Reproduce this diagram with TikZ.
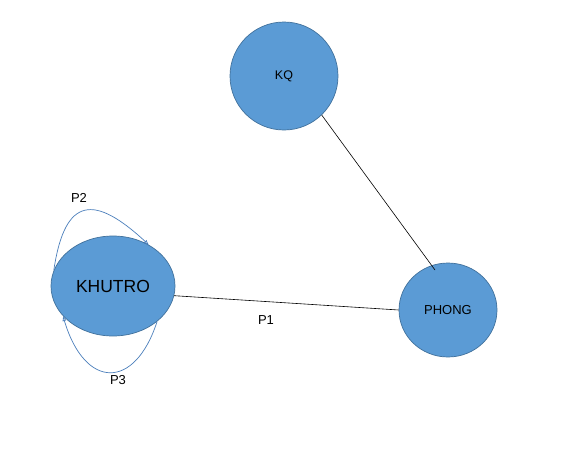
\documentclass[tikz,border=0pt]{standalone}
\usepackage{fontspec}
\setmainfont{Liberation Sans}
\usetikzlibrary{shapes.geometric,arrows.meta}
\definecolor{fillblue}{HTML}{5B9BD5}
\definecolor{edgeblue}{HTML}{41719C}
\definecolor{loopblue}{HTML}{4A7EBB}
\begin{document}
\begin{tikzpicture}[x=1pt,y=-1pt,
  blob/.style={ellipse,draw=edgeblue,fill=fillblue,line width=0.7pt,inner sep=0pt},
  link/.style={draw=black,line width=0.6pt},
  loopline/.style={draw=loopblue,line width=0.7pt,-{Latex[open,length=5pt,width=4pt]}},
  lbl/.style={font=\fontsize{13}{15}\selectfont,inner sep=0pt}]
\useasboundingbox (0,0) rectangle (565,450);
\node[blob,minimum width=108pt,minimum height=108pt] (q) at (284,76) {\fontsize{12.5}{14}\selectfont KQ};
\node[blob,minimum width=124pt,minimum height=100pt] (k) at (113,286) {\fontsize{17.5}{20}\selectfont KHUTRO};
\node[blob,minimum width=98pt,minimum height=94pt] (p) at (448,310) {\fontsize{13}{15}\selectfont PHONG};
\coordinate (pe) at (435,270);
\draw[link] (q.-46) -- (pe);
\draw[link] (k.-9) -- (p.west);
\draw[loopline] (k.165) .. controls (65,195) and (95,195) .. (k.49);
\draw[loopline] (k.-39) .. controls (135,390) and (85,390) .. (k.211);
\node[lbl] (l1) at (266,320) {P1};
\node[lbl] (l2) at (79,198) {P2};
\node[lbl] (l3) at (118,380) {P3};
\end{tikzpicture}
\end{document}
